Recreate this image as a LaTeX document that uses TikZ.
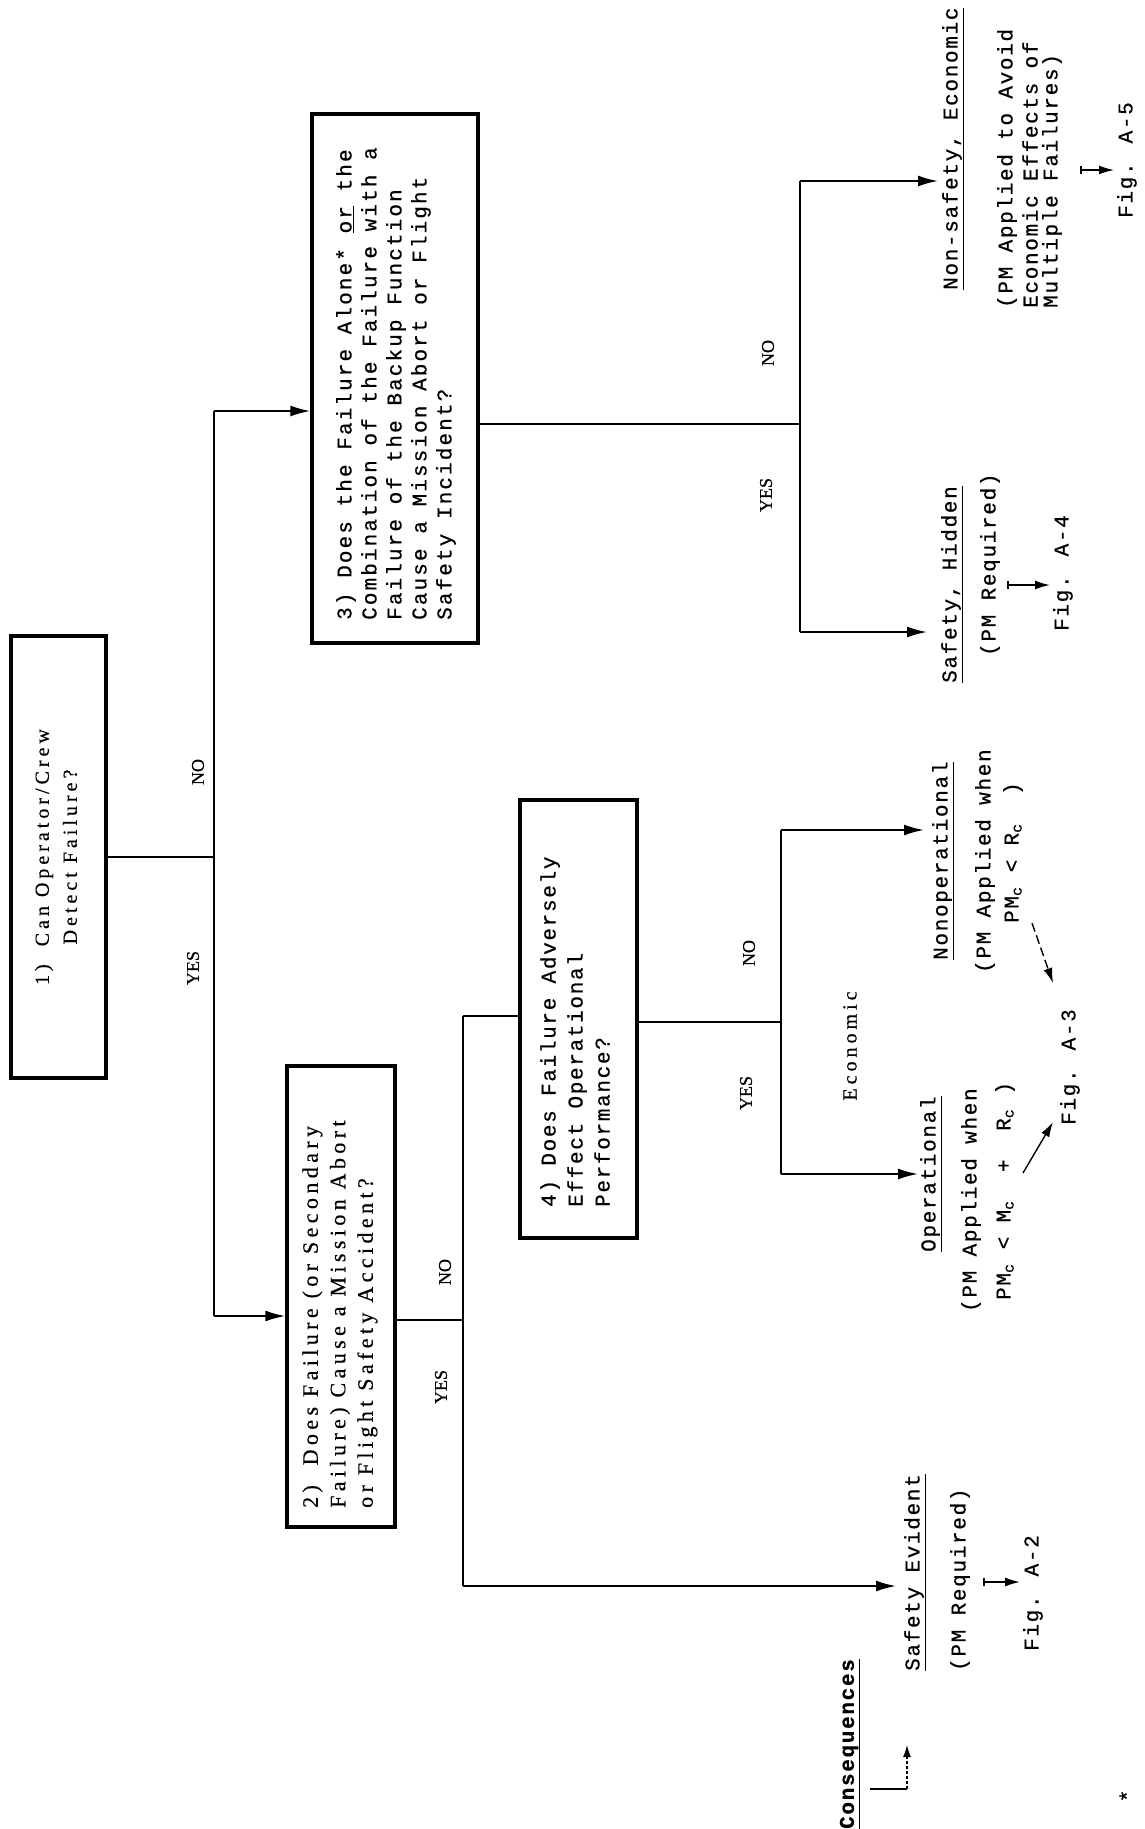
\documentclass[tikz,border=0pt]{standalone}
\usepackage{fontspec}
\setmainfont{Liberation Serif}
\newfontfamily\twA[LetterSpace=10,FakeBold=0.6]{Liberation Mono}
\newfontfamily\twB[LetterSpace=8,FakeBold=0.6]{Liberation Mono}
\newfontfamily\twC[LetterSpace=8,FakeBold=0.6]{Liberation Mono}
\newfontfamily\srA[LetterSpace=20,WordSpace=2,FakeBold=0.4]{Liberation Serif}
\newfontfamily\srB[LetterSpace=20,FakeBold=0.4]{Liberation Serif}
\newfontfamily\srL[FakeBold=0.4]{Liberation Serif}
\usetikzlibrary{arrows.meta}
\begin{document}
\begin{tikzpicture}[x=1pt,y=-1pt,
  boxs/.style={draw, line width=3.4pt, inner sep=0pt},
  conn/.style={line width=1.9pt},
  arr/.style={line width=1.9pt, -{Latex[length=20pt,width=11pt]}},
  figarr/.style={line width=1.6pt, {Bar[width=8pt,line width=1.6pt]}-{Latex[length=15pt,width=9pt]}, shorten >=3pt},
  rt/.style={rotate=90, inner sep=0pt},
  lbl/.style={rt, font=\srL\fontsize{18}{20}\selectfont},
  otxt/.style={rt, anchor=west, font=\twC\fontsize{21}{25}\selectfont},
  figt/.style={rt, font=\twC\fontsize{21}{25}\selectfont}]
\useasboundingbox (0,0) rectangle (1145,1829);
\fill[white] (0,0) rectangle (1145,1829);
\clip (0,0) rectangle (1145,1829);

% boxes
\node[boxs, minimum width=95pt, minimum height=442pt] (b1) at (58.5,857) {};
\node[boxs, minimum width=108pt, minimum height=461pt] (b2) at (341,1296.5) {};
\node[boxs, minimum width=166pt, minimum height=529pt] (b3) at (395,378.5) {};
\node[boxs, minimum width=117pt, minimum height=438pt] (b4) at (578.5,1019) {};

% box texts
\node[rt, align=center, font=\srA\fontsize{20}{28}\selectfont] (t1) at (56,857)
  {1)\ \ Can Operator/Crew\\Detect Failure?};
\node[rt, anchor=west, align=left, font=\srA\fontsize{22}{27.5}\selectfont] (t2) at (340,1508)
  {2)\ \ Does Failure (or Secondary\\Failure) Cause a Mission Abort\\or Flight Safety Accident?};
\node[rt, anchor=west, align=left, font=\twA\fontsize{21}{25}\selectfont] (t3) at (396,620)
  {3) Does the Failure Alone* \underline{or} the\\Combination of the Failure with a\\Failure of the Backup Function\\Cause a Mission Abort or Flight\\Safety Incident?};
\node[rt, anchor=west, align=left, font=\twB\fontsize{21}{27}\selectfont] (t4) at (575,1207)
  {4) Does Failure Adversely\\Effect Operational\\Performance?};

% junction coordinates
\coordinate (At) at (214,411);
\coordinate (Ab) at (214,1316);
\coordinate (Bt) at (800,181);
\coordinate (Bb) at (800,632);
\coordinate (Bj) at (800,424);
\coordinate (Ct) at (463,1016);
\coordinate (Cb) at (463,1586);
\coordinate (Cj) at (463,1320);
\coordinate (Dt) at (781,830);
\coordinate (Db) at (781,1174);
\coordinate (Dj) at (781,1022);

% outcome texts
\node[otxt] (nsT) at (953,290) {\underline{Non-safety, Economic}};
\node[otxt] (ns1) at (1007,308) {(PM Applied to Avoid};
\node[otxt] (ns2) at (1030,308) {Economic Effects of};
\node[otxt] (ns3) at (1052,308) {Multiple Failures)};
\node[figt] (f5) at (1127,160) {Fig. A-5};

\node[otxt] (shT) at (952,683) {\underline{Safety, Hidden}};
\node[otxt] (sh1) at (990,656) {(PM Required)};
\node[figt] (f4) at (1063,573) {Fig. A-4};

\node[otxt] (noT) at (943,960) {\underline{Nonoperational}};
\node[otxt] (no1) at (985,973) {(PM Applied when};
\node[otxt] (no2) at (1013,923) {PM\textsubscript{c} < R\textsubscript{c}\ \ )};
\node[otxt] (opT) at (931,1252) {\underline{Operational}};
\node[otxt] (op1) at (971,1312) {(PM Applied when};
\node[otxt] (op2) at (1005,1300) {PM\textsubscript{c} <\ M\textsubscript{c}\ \ +\ \ R\textsubscript{c} )};
\node[figt] (f3) at (1070,1067) {Fig. A-3};
\node[rt, font=\srB\fontsize{20}{24}\selectfont] (eco) at (850,1046) {Economic};

\node[otxt] (seT) at (915,1671) {\underline{Safety Evident}};
\node[otxt] (se1) at (960,1671) {(PM Required)};
\node[figt] (f2) at (1033,1593) {Fig. A-2};

\node[otxt, font=\twC\bfseries\fontsize{21}{25}\selectfont] (cons) at (850,1829) {\underline{Consequences}};
\node[figt] (star) at (1127,1796) {*};

% labels
\node[lbl] (l1n) at (198,772) {NO};
\node[lbl] (l1y) at (193,968) {YES};
\node[lbl] (l3n) at (768,353) {NO};
\node[lbl] (l3y) at (766,495) {YES};
\node[lbl] (l2n) at (445,1272) {NO};
\node[lbl] (l2y) at (441,1387) {YES};
\node[lbl] (l4n) at (749,953) {NO};
\node[lbl] (l4y) at (746,1093) {YES};

% connectors
\draw[conn] (b1.east) -- (b1.east -| At);
\draw[conn] (At) -- (Ab);
\draw[arr] (At) -- (At -| b3.west);
\draw[arr] (Ab) -- (Ab -| b2.west);

\draw[conn] (Bj -| b3.east) -- (Bj);
\draw[conn] (Bt) -- (Bb);
\draw[arr, shorten >=4pt] (Bt) -- (Bt -| nsT.north);
\draw[arr, shorten >=14pt] (Bb) -- (Bb -| shT.north);

\draw[conn] (Cj -| b2.east) -- (Cj);
\draw[conn] (Ct) -- (Cb);
\draw[conn] (Ct) -- (Ct -| b4.west);
\draw[arr, shorten >=8pt] (Cb) -- (Cb -| seT.north);

\draw[conn] (Dj -| b4.east) -- (Dj);
\draw[conn] (Dt) -- (Db);
\draw[arr, shorten >=8pt] (Dt) -- (Dt -| noT.north);
\draw[arr, shorten >=2pt] (Db) -- (Db -| opT.north);

% arrows to figures
\coordinate (s5) at (1080,170);
\coordinate (s4) at (1007,585);
\coordinate (s2) at (983,1582);
\draw[figarr] (s5) -- (s5 -| f5.north);
\draw[figarr] (s4) -- (s4 -| f4.north);
\draw[figarr] (s2) -- (s2 -| f2.north);
\coordinate (d1s) at (1032,923);
\coordinate (d1e) at (1053,983);
\coordinate (d2s) at (1023,1173);
\coordinate (d2e) at (1053,1122);
\draw[line width=1.4pt, dash pattern=on 9pt off 4pt, -{Latex[length=15pt,width=9pt]}] (d1s) -- (d1e);
\draw[line width=1.4pt, -{Latex[length=15pt,width=9pt]}] (d2s) -- (d2e);

% consequences marker
\coordinate (c1) at (870,1789);
\coordinate (c2) at (907,1789);
\coordinate (c3) at (907,1745);
\draw[line width=1.6pt] (c1) -- (c2);
\draw[line width=1.2pt, densely dashed, -{Latex[length=12pt,width=8pt]}] (c2) -- (c3);
\end{tikzpicture}
\end{document}
